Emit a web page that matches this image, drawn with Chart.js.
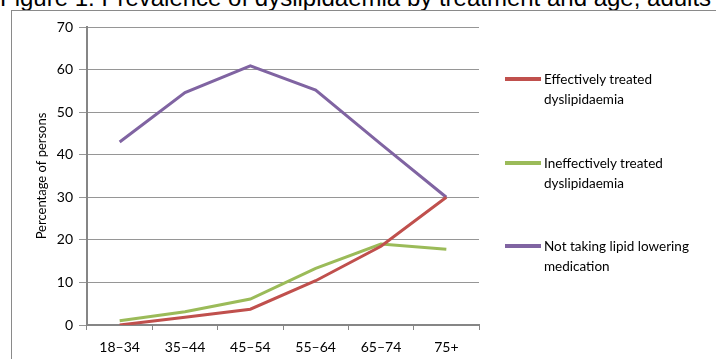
<!DOCTYPE html>
<html>
<head>
<meta charset="utf-8">
<script src="https://cdn.jsdelivr.net/npm/chart.js@4.4.1/dist/chart.umd.min.js"></script>
<style>
  html, body { margin: 0; padding: 0; background: #fff; }
  body { width: 716px; height: 359px; position: relative; overflow: hidden; }
  #title {
    position: absolute; left: 0; top: -16px; white-space: nowrap;
    font-family: "Liberation Sans", Arial, sans-serif; font-size: 24px; color: #000;
  }
  #frame {
    position: absolute; left: 11px; top: 10px; width: 720px; height: 360px;
    border-top: 1px solid #8a8a8a; border-left: 1px solid #8a8a8a;
  }
  #chartBox { position: absolute; left: 0; top: 0; width: 716px; height: 359px; }
  .legend-item { position: absolute; left: 505px; font-family: Lato, "Noto Sans", sans-serif; font-size: 13.5px; color: #000; line-height: 20px; }
  .legend-item .swatch { position: absolute; left: 0; top: 8px; width: 36px; height: 4px; }
  .legend-item .text { margin-left: 39px; white-space: nowrap; }
</style>
</head>
<body>
<div id="title">Figure 1: Prevalence of dyslipidaemia by treatment and age, adults</div>
<div id="frame"></div>
<div id="chartBox"><canvas id="myChart"></canvas></div>
<div id="legend"></div>
<script>
const ageGroups = ['18–34', '35–44', '45–54', '55–64', '65–74', '75+'];
const effectivelyTreated = [0.0, 1.8, 3.7, 10.4, 18.5, 30.0];
const ineffectivelyTreated = [1.0, 3.1, 6.1, 13.3, 19.0, 17.8];
const notTakingMedication = [43.0, 54.6, 60.9, 55.2, 42.5, 30.0];
const seriesNames = [
    ['Effectively treated', 'dyslipidaemia'],
    ['Ineffectively treated', 'dyslipidaemia'],
    ['Not taking lipid lowering', 'medication']
];
const seriesColors = ['#C0504D', '#9BBB59', '#8064A2'];

const ctx = document.getElementById('myChart');

new Chart(ctx, {
    type: 'line',
    data: {
        labels: ageGroups,
        datasets: [
            { label: seriesNames[0].join(' '), data: effectivelyTreated },
            { label: seriesNames[1].join(' '), data: ineffectivelyTreated },
            { label: seriesNames[2].join(' '), data: notTakingMedication }
        ].map(function (ds, i) {
            ds.borderColor = seriesColors[i];
            ds.backgroundColor = seriesColors[i];
            ds.borderWidth = 3;
            ds.pointRadius = 0;
            ds.tension = 0;
            ds.fill = false;
            return ds;
        })
    },
    options: {
        responsive: true,
        maintainAspectRatio: false,
        animation: false,
        events: [],
        layout: { padding: { left: 30, right: 237, top: 27, bottom: 0 } },
        plugins: {
            legend: { display: false },
            tooltip: { enabled: false }
        },
        scales: {
            x: {
                offset: true,
                grid: { drawOnChartArea: false, offset: true, tickLength: 5, color: '#868686', lineWidth: 1 },
                border: { color: '#868686', width: 2 },
                ticks: { color: '#000', padding: 9, font: { family: 'Lato', size: 14 }, maxRotation: 0 },
                afterFit: function (scale) { scale.height = 34; }
            },
            y: {
                min: 0,
                max: 70,
                ticks: { stepSize: 10, color: '#000', padding: 6, font: { family: 'Lato', size: 14 } },
                grid: { color: '#969696', lineWidth: 1, tickLength: 8 },
                border: { color: '#868686', width: 2 },
                title: {
                    display: true,
                    text: 'Percentage of persons',
                    color: '#000',
                    font: { family: 'Lato', size: 13 },
                    padding: { top: 4, bottom: 0 }
                },
                afterFit: function (scale) { scale.width = 57; }
            }
        }
    }
});

// legend, one block per series
var legend = document.getElementById('legend');
var legendTops = [69, 153, 236];
seriesNames.forEach(function (name, i) {
    var item = document.createElement('div');
    item.className = 'legend-item';
    item.style.top = legendTops[i] + 'px';
    item.innerHTML = '<div class="swatch" style="background:' + seriesColors[i] + '"></div>' +
        '<div class="text">' + name[0] + '<br>' + name[1] + '</div>';
    legend.appendChild(item);
});
</script>
</body>
</html>
